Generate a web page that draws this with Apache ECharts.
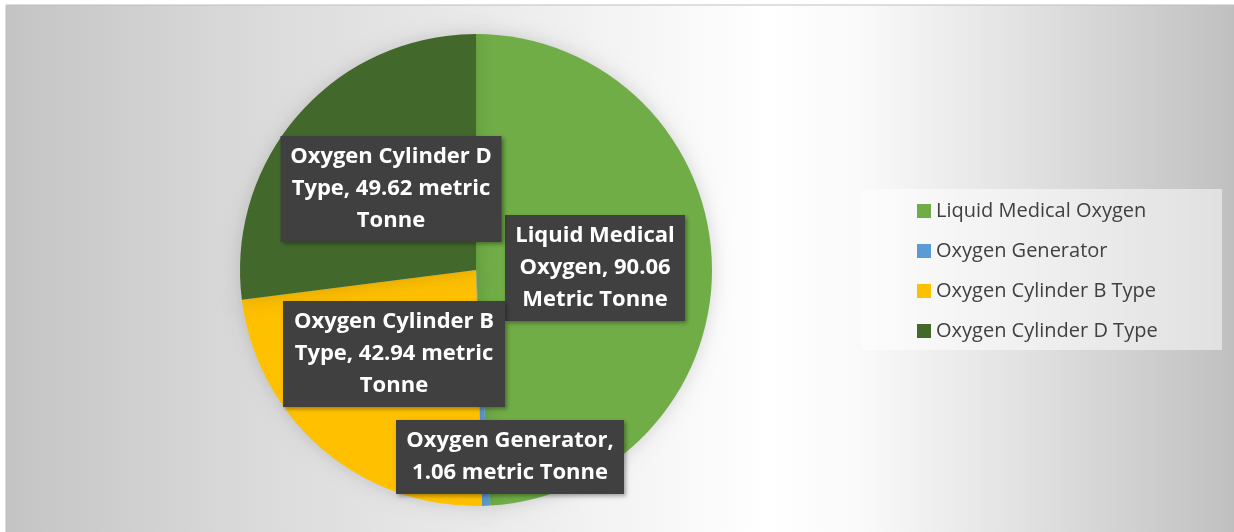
<!DOCTYPE html>
<html>
<head>
<meta charset="utf-8">
<script src="https://cdn.jsdelivr.net/npm/echarts@6/dist/echarts.min.js"></script>
<style>
  html, body { margin: 0; padding: 0; background: #ffffff; }
  #chart { width: 1234px; height: 532px; }
</style>
</head>
<body>
<div id="chart"></div>
<script>
// 数据
const categories = ['Liquid Medical Oxygen', 'Oxygen Generator', 'Oxygen Cylinder B Type', 'Oxygen Cylinder D Type'];
const values = [90.06, 1.06, 42.94, 49.62];
const colors = ['#70ad47', '#5b9bd5', '#ffc000', '#43682b'];

// label text, line breaks as in the picture
const labelText = [
    v => 'Liquid Medical\nOxygen, ' + v + '\nMetric Tonne',
    v => 'Oxygen Generator,\n' + v + ' metric Tonne',
    v => 'Oxygen Cylinder B\nType, ' + v + ' metric\nTonne',
    v => 'Oxygen Cylinder D\nType, ' + v + ' metric\nTonne'
];

// label box centre + size
const labelBox = [
    { x: 595, y: 268, w: 180 },
    { x: 510, y: 457, w: 228 },
    { x: 394, y: 354, w: 222 },
    { x: 391, y: 189, w: 221 }
];

const chart = echarts.init(document.getElementById('chart'));

const option = {
    animation: false,
    graphic: [
        {
            // chart area background
            type: 'rect',
            z: 0,
            shape: { x: 6, y: 5, width: 1228, height: 540 },
            style: {
                fill: {
                    type: 'linear', x: 0, y: 0, x2: 1, y2: 0,
                    colorStops: [
                        { offset: 0, color: '#c4c4c4' },
                        { offset: 0.2, color: '#dadada' },
                        { offset: 0.35, color: '#e7e7e7' },
                        { offset: 0.5, color: '#f4f4f4' },
                        { offset: 0.62, color: '#ffffff' },
                        { offset: 0.7, color: '#f9f9f9' },
                        { offset: 0.82, color: '#e3e3e3' },
                        { offset: 1, color: '#c0c0c0' }
                    ]
                },
                stroke: '#bfbfbf',
                lineWidth: 1
            }
        },
        {
            // legend box
            type: 'rect',
            z: 1,
            shape: { x: 862, y: 189, width: 360, height: 161 },
            style: { fill: 'rgba(255,255,255,0.5)' }
        }
    ],
    legend: {
        orient: 'vertical',
        left: 912,
        top: 195,
        icon: 'rect',
        itemWidth: 14,
        itemHeight: 14,
        itemGap: 18,
        textStyle: {
            fontFamily: 'Open Sans',
            fontSize: 20,
            color: '#404040',
            lineHeight: 22
        },
        data: categories
    },
    series: [
        {
            type: 'pie',
            center: [476, 270],
            radius: 236,
            startAngle: 90,
            clockwise: true,
            avoidLabelOverlap: false,
            itemStyle: {
                shadowBlur: 18,
                shadowColor: 'rgba(0,0,0,0.15)'
            },
            emphasis: { disabled: true },
            labelLine: { show: false },
            label: {
                show: true,
                position: 'inside',
                fontFamily: 'Open Sans',
                fontWeight: 'bold',
                fontSize: 22,
                lineHeight: 32,
                color: '#ffffff',
                align: 'center',
                verticalAlign: 'middle',
                backgroundColor: '#404040',
                padding: [5, 0],
                shadowBlur: 4,
                shadowOffsetX: 2,
                shadowOffsetY: 2,
                shadowColor: 'rgba(0,0,0,0.35)',
                formatter: (p) => labelText[p.dataIndex](p.value.toFixed(2))
            },
            labelLayout: (params) => {
                const b = labelBox[params.dataIndex];
                return { x: b.x, y: b.y, align: 'center', verticalAlign: 'middle' };
            },
            data: categories.map((name, i) => ({
                name: name,
                value: values[i],
                itemStyle: { color: colors[i] },
                label: { width: labelBox[i].w }
            }))
        }
    ]
};

chart.setOption(option);
</script>
</body>
</html>
